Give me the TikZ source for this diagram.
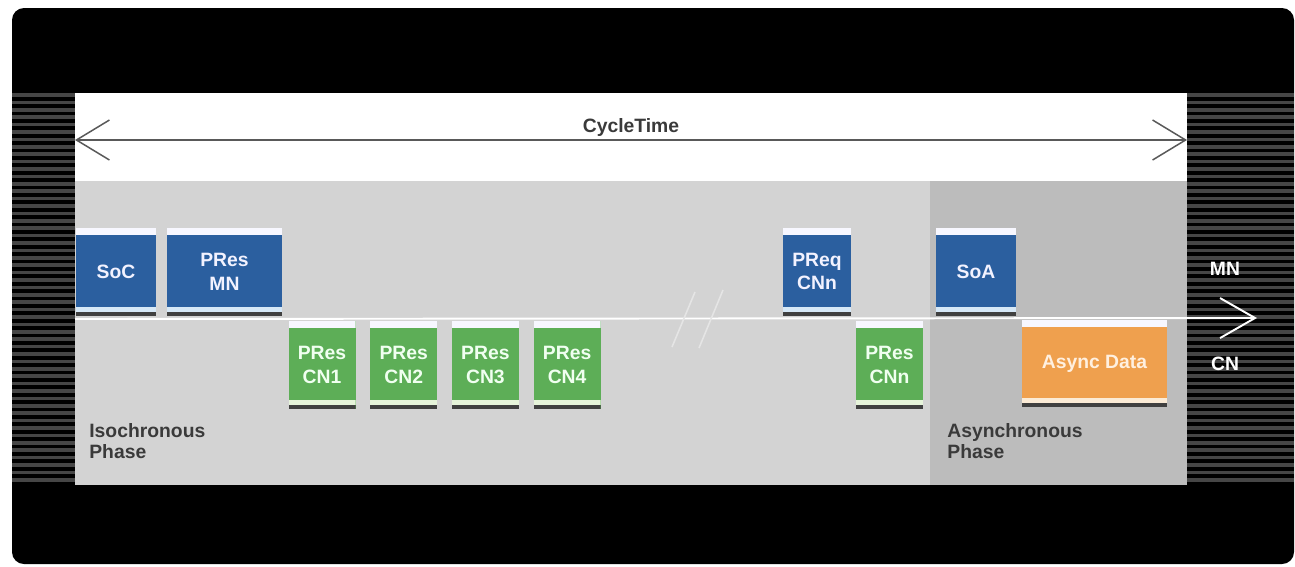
\documentclass[tikz,border=0pt]{standalone}
\usepackage{fontspec}
\setmainfont{Liberation Sans}
\usetikzlibrary{arrows.meta}

\newcommand{\pxu}{0.02cm}
\newcommand{\boxfont}{\fontsize{11}{13.5}\selectfont\bfseries}

\definecolor{frameblue}{HTML}{2B5F9F}
\definecolor{framegreen}{HTML}{5DAE57}
\definecolor{frameorange}{HTML}{EFA04E}
\definecolor{bluestrip}{HTML}{D6E8F7}
\definecolor{greenstrip}{HTML}{E6F4DA}
\definecolor{orangestrip}{HTML}{FBEBD6}
\definecolor{isogray}{HTML}{D3D3D3}
\definecolor{asyncgray}{HTML}{BCBCBC}
\definecolor{stripegray}{HTML}{464646}
\definecolor{labelgray}{HTML}{3A3A3A}

\tikzset{
    strip/.store in=\stripcol,
    strip=white
}

\begin{document}
\begin{tikzpicture}[
        x=\pxu, y=-\pxu,
        frame/.style={rectangle, inner sep=0pt, font=\boxfont, align=center,
            minimum height=88*\pxu,
            path picture={
                \fill[white!97!blue] (path picture bounding box.north west) rectangle ([yshift=-7*\pxu]path picture bounding box.north east);
                \fill[\stripcol] ([yshift=4*\pxu]path picture bounding box.south west) rectangle ([yshift=9*\pxu]path picture bounding box.south east);
                \fill[black!75] (path picture bounding box.south west) rectangle ([yshift=4*\pxu]path picture bounding box.south east);
            }},
        mnframe/.style={frame, fill=frameblue, strip=bluestrip, text=blue!5!white},
        cnframe/.style={frame, fill=framegreen, strip=greenstrip, text=green!6!white, minimum width=67*\pxu},
        asyncframe/.style={frame, fill=frameorange, strip=orangestrip, text=orange!12!white},
        phase/.style={anchor=west, inner sep=0pt, align=left, text=labelgray, font=\fontsize{11}{12}\selectfont\bfseries},
        side/.style={inner sep=0pt, text=white, font=\boxfont}
    ]
        \useasboundingbox (0,0) rectangle (1295,566);
        \fill[white] (0,0) rectangle (1295,566);

        % Outer frame
        \fill[black, rounded corners=0.24cm] (12,8) rectangle (1294,564);
        \foreach \k in {0,...,52} {
            \draw[stripegray, line width=2.1pt] (12,95+\k*7.4) -- (75,95+\k*7.4);
            \draw[stripegray, line width=2.1pt] (1187,95+\k*7.4) -- (1294,95+\k*7.4);
        }
        \fill[black] (12,484) rectangle (1294,490);

        % Cycle band and phases
        \fill[white] (75,93) rectangle (1187,181);
        \fill[isogray] (75,181) rectangle (930,485);
        \fill[asyncgray] (930,181) rectangle (1187,485);

        % Cycle time
        \coordinate (ct-l) at (75,140);
        \coordinate (ct-r) at (1187,140);
        \draw[{Straight Barb[length=0.66cm, width=0.8cm]}-{Straight Barb[length=0.66cm, width=0.8cm]}, black!65, line width=0.85pt]
            (ct-l) -- node[above=-1.5pt, text=labelgray, font=\boxfont] (cycletime) {CycleTime} (ct-r);

        % Time line
        \coordinate (tl-start) at (75,319);
        \coordinate (tl-end) at (1257,318);
        \draw[-{Straight Barb[length=0.7cm, width=0.8cm]}, white, line width=1.1pt] (tl-start) -- (tl-end);
        \draw[white!90!black, line width=0.9pt] (672,347) -- (695,292);
        \draw[white!90!black, line width=0.9pt] (699,348) -- (723,290);

        % MN frames
        \node[mnframe, minimum width=80*\pxu] (soc) at (116,271.5) {SoC};
        \node[mnframe, minimum width=115*\pxu] (presmn) at (224.5,271.5) {PRes\\MN};
        \node[mnframe, minimum width=68*\pxu] (preqcnn) at (817,271.5) {PReq\\CNn};
        \node[mnframe, minimum width=80*\pxu] (soa) at (976,271.5) {SoA};

        % CN frames
        \foreach \i in {1,2,3,4} {
            \node[cnframe] (prescn\i) at (322+\i*81.7-81.7,365) {PRes\\CN\i};
        }
        \node[cnframe] (prescnn) at (889.5,365) {PRes\\CNn};
        \node[asyncframe, minimum width=145*\pxu, minimum height=87*\pxu] (asyncdata) at (1094.5,363.5) {Async Data};

        % Labels
        \node[side] (mn) at (1225,269) {MN};
        \node[side] (cn) at (1225,364) {CN};
        \node[phase] (isophase) at (89,441) {Isochronous\\Phase};
        \node[phase] (asyncphase) at (947,441) {Asynchronous\\Phase};
    \end{tikzpicture}
\end{document}
